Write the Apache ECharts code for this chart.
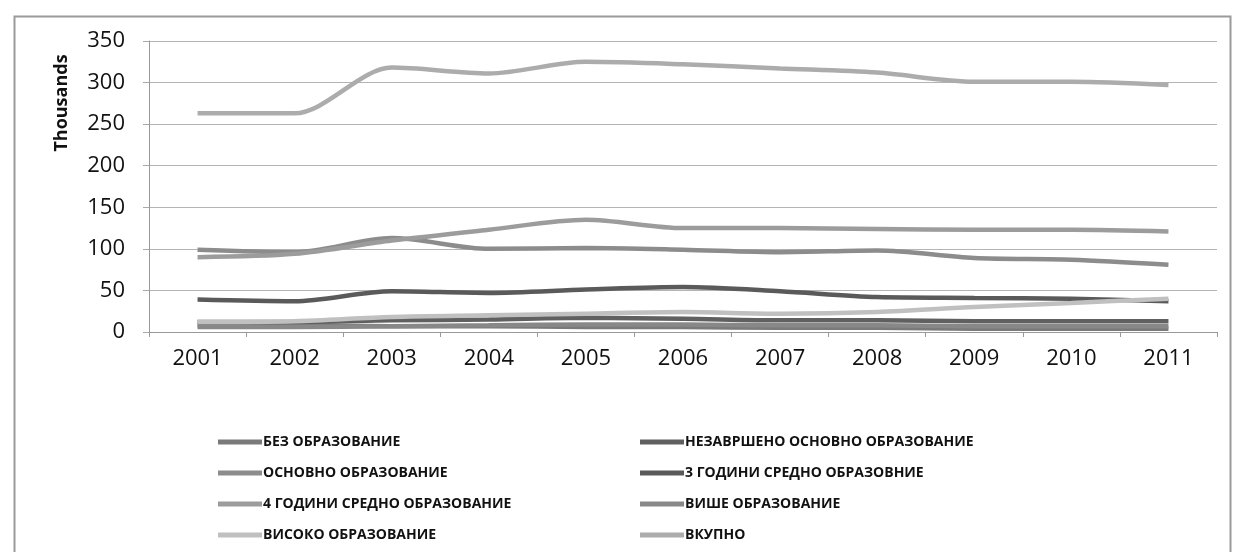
<!DOCTYPE html>
<html>
<head>
<meta charset="utf-8">
<script src="https://cdn.jsdelivr.net/npm/echarts@6/dist/echarts.min.js"></script>
<style>
html,body{margin:0;padding:0;background:#fff;}
#chart{width:1235px;height:552px;}
</style>
</head>
<body>
<div id="chart"></div>
<script>
const years = ['2001','2002','2003','2004','2005','2006','2007','2008','2009','2010','2011'];
const yTicks = [0, 50, 100, 150, 200, 250, 300, 350];
const names = [
  'БЕЗ ОБРАЗОВАНИЕ',
  'НЕЗАВРШЕНО ОСНОВНО ОБРАЗОВАНИЕ',
  'ОСНОВНО ОБРАЗОВАНИЕ',
  '3 ГОДИНИ СРЕДНО ОБРАЗОВНИЕ',
  '4 ГОДИНИ СРЕДНО ОБРАЗОВАНИЕ',
  'ВИШЕ ОБРАЗОВАНИЕ',
  'ВИСОКО ОБРАЗОВАНИЕ',
  'ВКУПНО'
];
const bez        = [8, 8, 7, 7, 6, 6, 5, 5, 4, 4, 4];
const nezavrseno = [12, 12, 14, 15, 17, 16, 14, 14, 13, 13, 13];
const osnovno    = [99, 96, 113, 100, 101, 99, 96, 98, 89, 87, 81];
const godini3    = [39, 37, 49, 47, 51, 54, 49, 42, 41, 40, 37];
const godini4    = [90, 94, 110, 123, 135, 125, 125, 124, 123, 123, 121];
const vishe      = [6, 6, 7, 8, 9, 9, 8, 8, 7, 7, 7];
const visoko     = [12, 13, 18, 20, 22, 24, 22, 24, 30, 35, 40];
const vkupno     = [263, 263, 318, 311, 325, 322, 317, 312, 301, 301, 297];

const seriesData = [bez, nezavrseno, osnovno, godini3, godini4, vishe, visoko, vkupno];
const colors = ['#7a7a7a', '#606060', '#8c8c8c', '#5a5a5a', '#9c9c9c', '#888888', '#c0c0c0', '#acacac'];

const chart = echarts.init(document.getElementById('chart'), null, {renderer: 'canvas'});
const legendText = {fontFamily: 'Open Sans', fontSize: 14, fontWeight: 'bold', color: '#111', lineHeight: 16, padding: [0, 0, 0, -4]};
const option = {
  animation: false,
  backgroundColor: '#fff',
  color: colors,
  graphic: [
    {type: 'rect', left: 12, top: 14, shape: {width: 1216, height: 560},
     style: {fill: 'none', stroke: '#9a9a9a', lineWidth: 2}, silent: true},
    {type: 'text', x: 62, y: 103, rotation: Math.PI / 2,
     style: {text: 'Thousands', font: 'bold 18px "Open Sans"', fill: '#111',
             textAlign: 'center', textVerticalAlign: 'middle'}}
  ],
  grid: {left: 149, right: 18, top: 41, bottom: 220, containLabel: false},
  xAxis: {
    type: 'category',
    data: years,
    boundaryGap: true,
    axisLine: {show: true, lineStyle: {color: '#999', width: 1}},
    axisTick: {show: true, interval: 0, length: 5, lineStyle: {color: '#999'}},
    axisLabel: {margin: 16, fontFamily: 'Open Sans', fontSize: 22, color: '#111', interval: 0}
  },
  yAxis: {
    type: 'value',
    min: yTicks[0],
    max: yTicks[yTicks.length - 1],
    interval: 50,
    axisLine: {show: true, lineStyle: {color: '#999', width: 1}},
    axisTick: {show: true, length: 6, lineStyle: {color: '#aaa'}},
    axisLabel: {margin: 24, fontFamily: 'Open Sans', fontSize: 22, color: '#111'},
    splitLine: {show: true, lineStyle: {color: '#b4b4b4', width: 1}}
  },
  legend: [
    {
      orient: 'vertical', left: 213, top: 429, itemGap: 15,
      itemWidth: 44, itemHeight: 5, icon: 'rect',
      textStyle: legendText,
      data: [names[0], names[2], names[4], names[6]]
    },
    {
      orient: 'vertical', left: 635, top: 429, itemGap: 15,
      itemWidth: 44, itemHeight: 5, icon: 'rect',
      textStyle: legendText,
      data: [names[1], names[3], names[5], names[7]]
    }
  ],
  series: names.map((n, i) => ({
    name: n,
    type: 'line',
    data: seriesData[i],
    smooth: 0.3,
    showSymbol: false,
    symbol: 'none',
    lineStyle: {width: 4.5, color: colors[i]},
    itemStyle: {color: colors[i]}
  }))
};
chart.setOption(option);
</script>
</body>
</html>
